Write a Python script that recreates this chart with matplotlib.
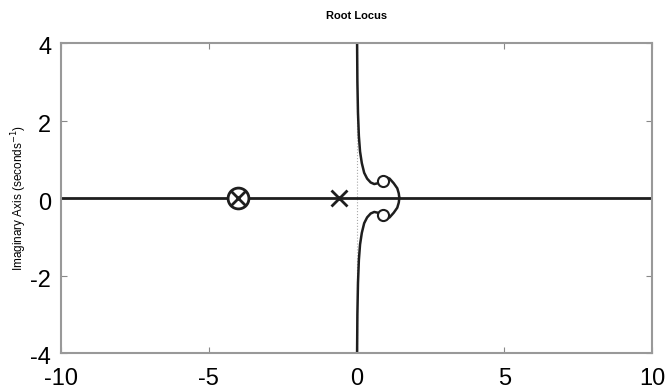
import matplotlib.pyplot as plt
from matplotlib.transforms import ScaledTranslation

plt.rcParams['font.family'] = ['Liberation Sans', 'DejaVu Sans']
plt.rcParams['axes.unicode_minus'] = False

# open-loop poles / zeros
pole_x = [-0.6]
pole_y = [0.0]
cancel_x = [-4.0]        # pole and zero at the same spot
cancel_y = [0.0]
zero_x = [0.89, 0.89]
zero_y = [0.43, -0.43]

# upper locus branches (lower half is the mirror image)
br1_x = [0.02, 0.03, 0.05, 0.08, 0.12, 0.18, 0.26, 0.36, 0.48, 0.60, 0.72, 0.89]
br1_y = [4.0, 3.0, 2.2, 1.6, 1.2, 0.9, 0.65, 0.5, 0.4, 0.36, 0.38, 0.43]
br2_x = [1.45, 1.43, 1.38, 1.26, 1.12, 1.0, 0.89]
br2_y = [0.0, 0.12, 0.25, 0.38, 0.5, 0.54, 0.43]
real_x = [-10, 10]

xticks = [-10, -5, 0, 5, 10]
yticks = [-4, -2, 0, 2, 4]

fig = plt.figure(figsize=(6.67, 3.91), dpi=100)
ax = fig.add_axes([61 / 667, 38 / 391, 591 / 667, 310 / 391])

lc = '#1e1e1e'
# dotted imaginary axis
ax.plot([0, 0], [-4, 4], ls=':', color='#aaaaaa', lw=0.8)
ax.plot(real_x, [0, 0], color=lc, lw=2)
for sgn in (1, -1):
    ax.plot(br1_x, [sgn * v for v in br1_y], color=lc, lw=1.8)
    ax.plot(br2_x, [sgn * v for v in br2_y], color=lc, lw=1.8)

ax.plot(pole_x, pole_y, 'x', color=lc, ms=12, mew=2)
ax.plot(cancel_x, cancel_y, 'o', mfc='white', mec=lc, ms=15, mew=2)
ax.plot(cancel_x, cancel_y, 'x', color=lc, ms=10, mew=2)
ax.plot(zero_x, zero_y, 'o', mfc='white', mec=lc, ms=8, mew=1.5)

ax.set_xlim(-10, 10)
ax.set_ylim(-4, 4)
ax.set_xticks(xticks)
ax.set_yticks(yticks)
ax.tick_params(direction='in', length=4, color='#888888', labelsize=17,
               top=True, right=True)
ax.tick_params(axis='x', pad=11)
ax.tick_params(axis='y', pad=7)
shift = ScaledTranslation(0, -3 / 100, fig.dpi_scale_trans)
for lab in ax.get_yticklabels():
    lab.set_transform(lab.get_transform() + shift)
for s in ax.spines.values():
    s.set_color('#999999')
    s.set_linewidth(1.5)

ax.set_ylabel('Imaginary Axis (seconds$^{-1}$)', fontsize=8.5, labelpad=1)
ax.set_title('Root Locus', fontsize=8, fontweight='bold', pad=17)

fig.savefig('out.png', dpi=100)
